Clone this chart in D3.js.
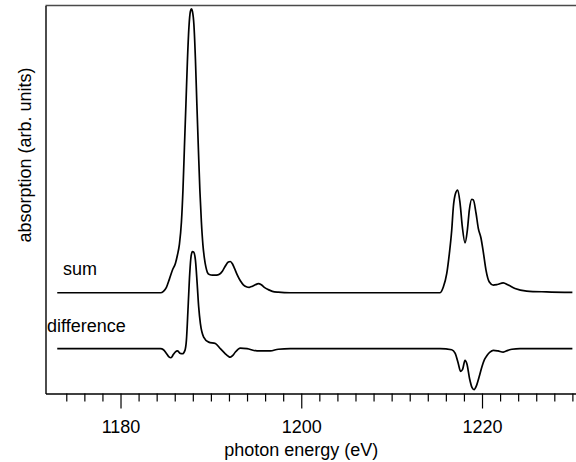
<!DOCTYPE html>
<html>
<head>
<meta charset="utf-8">
<script src="https://cdn.jsdelivr.net/npm/d3@7"></script>
<style>
  html, body { margin: 0; padding: 0; background: #fff; }
  svg { display: block; font-family: "Liberation Sans", Arial, Helvetica, sans-serif; }
</style>
</head>
<body>
<svg id="chart" width="576" height="462"></svg>
<script>
// Photon energy (eV) and absorption (arb. units) for the sum spectrum
const sumEnergy = [1173.0, 1184.42, 1184.75, 1185.08, 1185.41, 1185.75, 1186.08, 1186.30, 1186.52, 1186.74,
  1186.91, 1187.07, 1187.24, 1187.40, 1187.57, 1187.73, 1187.85, 1187.96, 1188.12, 1188.29,
  1188.45, 1188.62, 1188.78, 1188.95, 1189.12, 1189.28, 1189.45, 1189.61, 1189.83, 1190.17,
  1190.61, 1190.94, 1191.27, 1191.60, 1191.93, 1192.15, 1192.38, 1192.60, 1192.93, 1193.26,
  1193.59, 1193.92, 1194.25, 1194.59, 1194.92, 1195.25, 1195.58, 1195.91, 1196.35, 1196.80,
  1197.46, 1198.78, 1215.36, 1215.72, 1216.10, 1216.39, 1216.65, 1216.83, 1217.05, 1217.31,
  1217.57, 1217.82, 1218.12, 1218.38, 1218.60, 1218.86, 1219.04, 1219.34, 1219.59, 1219.89,
  1220.14, 1220.44, 1220.81, 1221.25, 1221.69, 1222.35, 1222.91, 1223.65, 1224.94, 1227.15, 1230.0];
const sumValue = [0, 0, 0.005, 0.019, 0.048, 0.080, 0.104, 0.133, 0.171, 0.249,
  0.362, 0.511, 0.666, 0.814, 0.935, 0.991, 1.0, 0.991, 0.945, 0.822,
  0.663, 0.504, 0.362, 0.249, 0.168, 0.122, 0.090, 0.072, 0.064, 0.062,
  0.062, 0.065, 0.076, 0.094, 0.108, 0.110, 0.102, 0.087, 0.062, 0.042,
  0.028, 0.021, 0.019, 0.023, 0.028, 0.032, 0.028, 0.019, 0.011, 0.005,
  0.002, 0, 0, 0.020, 0.068, 0.139, 0.221, 0.303, 0.348, 0.362,
  0.316, 0.233, 0.176, 0.221, 0.292, 0.329, 0.327, 0.280, 0.227, 0.192,
  0.144, 0.080, 0.038, 0.027, 0.029, 0.035, 0.027, 0.015, 0.006, 0.003, 0.001];

// Photon energy (eV) and absorption (arb. units) for the difference spectrum
const diffEnergy = [1173.0, 1184.42, 1184.75, 1185.08, 1185.36, 1185.58, 1185.86, 1186.08, 1186.30, 1186.57,
  1186.85, 1187.13, 1187.29, 1187.48, 1187.66, 1187.81, 1187.96, 1188.10, 1188.29, 1188.48,
  1188.65, 1188.84, 1189.20, 1189.76, 1190.50, 1191.05, 1191.60, 1191.93, 1192.15, 1192.43,
  1192.71, 1193.26, 1194.00, 1195.10, 1195.83, 1196.57, 1197.46, 1198.78, 1215.36, 1216.65,
  1217.02, 1217.38, 1217.62, 1217.85, 1218.12, 1218.34, 1218.62, 1218.90, 1219.12, 1219.39,
  1219.67, 1220.00, 1220.28, 1220.55, 1220.88, 1221.25, 1221.77, 1222.35, 1222.87, 1223.31,
  1224.20, 1230.0];
const diffValue = [0, 0, -0.004, -0.017, -0.029, -0.032, -0.020, -0.011, -0.008, -0.016,
  -0.018, -0.006, 0.029, 0.147, 0.265, 0.326, 0.342, 0.340, 0.312, 0.230,
  0.147, 0.088, 0.041, 0.023, 0.018, 0, -0.018, -0.027, -0.030, -0.024,
  -0.012, 0.002, 0, -0.008, -0.008, -0.008, -0.002, 0, 0, -0.004,
  -0.016, -0.053, -0.080, -0.073, -0.041, -0.055, -0.105, -0.137, -0.144, -0.130,
  -0.101, -0.063, -0.038, -0.024, -0.012, -0.006, -0.008, -0.012, -0.006, -0.002,
  0, 0];

// Vertical offset of the difference trace below the sum trace
const diffOffset = -0.197;

// Axis ticks
const majorTicks = [1180, 1200, 1220];
const minorTicks = d3.range(1174, 1231, 2).filter(v => !majorTicks.includes(v));
const seriesLabels = ["sum", "difference"];
const xTitle = "photon energy (eV)";
const yTitle = "absorption (arb. units)";

const svg = d3.select("#chart");
const margin = { left: 45.5, top: 5.5, bottom: 393.5, right: 576 };

const x = d3.scaleLinear().domain([1171.7, 1230.4]).range([margin.left, margin.right]);
const y = d3.scaleLinear().domain([-0.355, 1.012]).range([margin.bottom, margin.top]);

// Top frame line
svg.append("line")
  .attr("x1", margin.left).attr("x2", 576)
  .attr("y1", margin.top).attr("y2", margin.top)
  .attr("stroke", "#4a4a4a").attr("stroke-width", 1.4);

// Minor ticks
svg.append("g")
  .attr("transform", `translate(0,${margin.bottom})`)
  .call(d3.axisBottom(x).tickValues(minorTicks).tickSize(8).tickSizeOuter(0).tickFormat(""))
  .call(g => g.select(".domain").attr("stroke", "#000").attr("stroke-width", 1.4))
  .call(g => g.selectAll(".tick line").attr("stroke", "#000").attr("stroke-width", 1.2));

// Major ticks with labels
svg.append("g")
  .attr("transform", `translate(0,${margin.bottom})`)
  .call(d3.axisBottom(x).tickValues(majorTicks).tickSize(15).tickSizeOuter(0).tickPadding(12).tickFormat(d3.format("d")))
  .call(g => g.select(".domain").remove())
  .call(g => g.selectAll(".tick line").attr("stroke", "#000").attr("stroke-width", 1.2))
  .call(g => g.selectAll(".tick text")
    .attr("fill", "#000")
    .style("font-size", "18px")
    .style("font-family", "'Liberation Sans', Arial, sans-serif"));

// Left axis line
svg.append("g")
  .attr("transform", `translate(${margin.left},0)`)
  .call(d3.axisLeft(y).tickValues([]).tickSizeOuter(0))
  .call(g => g.select(".domain").attr("stroke", "#000").attr("stroke-width", 1.4));

// Traces
const line = d3.line().curve(d3.curveMonotoneX);

svg.append("path")
  .attr("d", line(sumEnergy.map((e, i) => [x(e), y(sumValue[i])])))
  .attr("fill", "none").attr("stroke", "#000").attr("stroke-width", 1.7)
  .attr("stroke-linejoin", "round");

svg.append("path")
  .attr("d", line(diffEnergy.map((e, i) => [x(e), y(diffValue[i] + diffOffset)])))
  .attr("fill", "none").attr("stroke", "#000").attr("stroke-width", 1.7)
  .attr("stroke-linejoin", "round");

// Trace labels
svg.append("text")
  .attr("x", 63).attr("y", 275)
  .style("font-size", "18px")
  .text(seriesLabels[0]);

svg.append("text")
  .attr("x", 47).attr("y", 331.5)
  .style("font-size", "18px")
  .text(seriesLabels[1]);

// Axis titles
svg.append("text")
  .attr("x", x(1200)).attr("y", 456)
  .attr("text-anchor", "middle")
  .style("font-size", "18px")
  .text(xTitle);

svg.append("text")
  .attr("transform", "translate(31,155) rotate(-90)")
  .attr("text-anchor", "middle")
  .style("font-size", "18px")
  .text(yTitle);
</script>
</body>
</html>
